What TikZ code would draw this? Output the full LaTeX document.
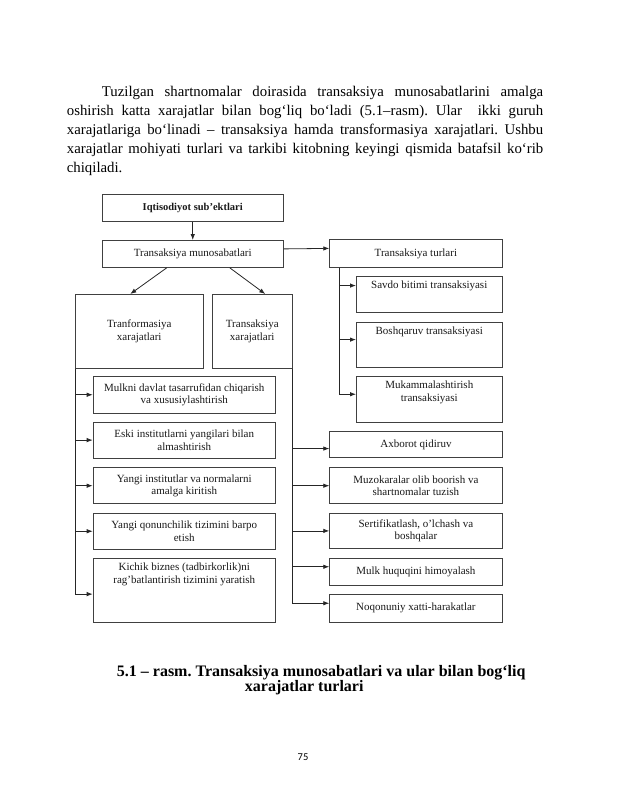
\documentclass[tikz,border=0pt]{standalone}
\usepackage{fontspec}
\setmainfont{Liberation Serif}
\newfontfamily\betfont{Carlito}
\usetikzlibrary{arrows.meta,calc}
\tikzset{
  box/.style={draw=black!75, line width=0.8pt, text=black!90, font=\fontsize{11}{12.5}\selectfont, align=center, anchor=north west, inner sep=2pt},
  toptext/.style={anchor=north, yshift=-3pt, text=black!90, font=\fontsize{11}{12.5}\selectfont, align=center, inner sep=2pt},
  arr/.style={draw=black!85, line width=0.8pt, -{Latex[length=6pt,width=4.5pt]}},
}

\begin{document}
\frenchspacing
\begin{tikzpicture}[x=1pt,y=-1pt]
			%%%%% START %%%%%
			\useasboundingbox (0,0) rectangle (618,800);
			
			\node[anchor=north west, inner sep=0pt, text width=476.3pt, align=justify, font=\fontsize{14.8}{19}\selectfont] (matn) at (66.7, 86) {\hspace*{35pt}Tuzilgan shartnomalar doirasida transaksiya munosabatlarini amalga\linebreak oshirish katta xarajatlar bilan bog‘liq bo‘ladi (5.1–rasm). Ular\ \ ikki guruh\linebreak xarajatlariga bo‘linadi – transaksiya hamda transformasiya xarajatlari. Ushbu\linebreak xarajatlar mohiyati turlari va tarkibi kitobning keyingi qismida batafsil ko‘rib\linebreak chiqiladi.};
			
			\node[box, font=\bfseries\fontsize{10.5}{12}\selectfont, minimum width=181.3pt, minimum height=27pt] (subj) at (101.7,194) {Iqtisodiyot sub’ektlari};
			\node[box, minimum width=181.3pt, minimum height=27pt] (munos) at (101.7,240) {Transaksiya munosabatlari};
			\node[box, minimum width=172.4pt, minimum height=27.4pt] (turlar) at (329.3,239.3) {Transaksiya turlari};
			\node[box, minimum width=127.7pt, minimum height=73.7pt] (tranf) at (75,294) {Tranformasiya\\xarajatlari};
			\node[box, minimum width=80.3pt, minimum height=73.7pt] (txar) at (211.7,294) {Transaksiya\\xarajatlari};
			
			\node[box, minimum width=145.7pt, minimum height=36.3pt, label={[toptext]north:Savdo bitimi transaksiyasi}] (savdo) at (356,276) {};
			\node[box, minimum width=145.7pt, minimum height=45pt, label={[toptext]north:Boshqaruv transaksiyasi}] (bosh) at (356,321.7) {};
			\node[box, minimum width=145.7pt, minimum height=45.7pt, label={[toptext]north:Mukammalashtirish\\transaksiyasi}] (mukam) at (356,376) {};
			
			\node[box, minimum width=182.3pt, minimum height=36.7pt] (mulk) at (92.7,376) {Mulkni davlat tasarrufidan chiqarish\\va xususiylashtirish};
			\node[box, minimum width=182.3pt, minimum height=36pt] (eski) at (92.7,421.7) {Eski institutlarni yangilari bilan\\almashtirish};
			\node[box, minimum width=182.3pt, minimum height=36pt] (yangi) at (92.7,467.3) {Yangi institutlar va normalarni\\amalga kiritish};
			\node[box, minimum width=182.3pt, minimum height=36.3pt] (qonun) at (92.7,512.7) {Yangi qonunchilik tizimini barpo\\etish};
			\node[box, minimum width=182.3pt, minimum height=64pt, label={[toptext]north:Kichik biznes (tadbirkorlik)ni\\rag’batlantirish tizimini yaratish}] (kichik) at (92.7,557.7) {};
			
			\node[box, minimum width=172.4pt, minimum height=26.3pt] (axb) at (329.3,431) {Axborot qidiruv};
			\node[box, minimum width=172.4pt, minimum height=36pt] (muzo) at (329.3,467.3) {Muzokaralar olib boorish va\\shartnomalar tuzish};
			\node[box, minimum width=172.4pt, minimum height=35.6pt] (sert) at (329.3,512.7) {Sertifikatlash, o’lchash va\\boshqalar};
			\node[box, minimum width=172.4pt, minimum height=27.3pt] (mulkh) at (329.3,557.7) {Mulk huquqini himoyalash};
			\node[box, minimum width=172.4pt, minimum height=27.7pt] (noq) at (329.3,594) {Noqonuniy xatti-harakatlar};
			
			\draw[arr] (subj) -- (munos);
			\draw[arr] ([yshift=5pt]munos.east) -- ([yshift=5pt]turlar.west);
			\draw[arr] ([xshift=-26pt]munos.south) -- ([xshift=-9pt]tranf.north);
			\draw[arr] ([xshift=37pt]munos.south) -- ([xshift=13pt]txar.north);
			
			\foreach \b/\s in {savdo/9,bosh/5,mukam/5}
				\draw[arr] ([xshift=9.7pt]turlar.south west) |- ([yshift=\s pt]\b.west);
			\foreach \b/\s in {mulk/0,eski/0,yangi/0,qonun/0,kichik/-4}
				\draw[arr] (tranf.south west) |- ([yshift=\s pt]\b.west);
			\foreach \b/\s in {axb/-4,muzo/0,sert/0,mulkh/5,noq/5}
				\draw[arr] (txar.south east) |- ([yshift=\s pt]\b.west);
			
			\node[anchor=base west, inner sep=0pt, align=left, font=\bfseries\fontsize{16}{15}\selectfont] (caption) at (116.7,691) {5.1 – rasm. Transaksiya munosabatlari va ular bilan bog‘liq\\\hspace*{128pt}xarajatlar turlari};
			
			\node[font=\betfont\fontsize{10.5}{12}\selectfont] (bet) at (303,757) {75};
			%%%%% END %%%%%
\end{tikzpicture}
\end{document}
